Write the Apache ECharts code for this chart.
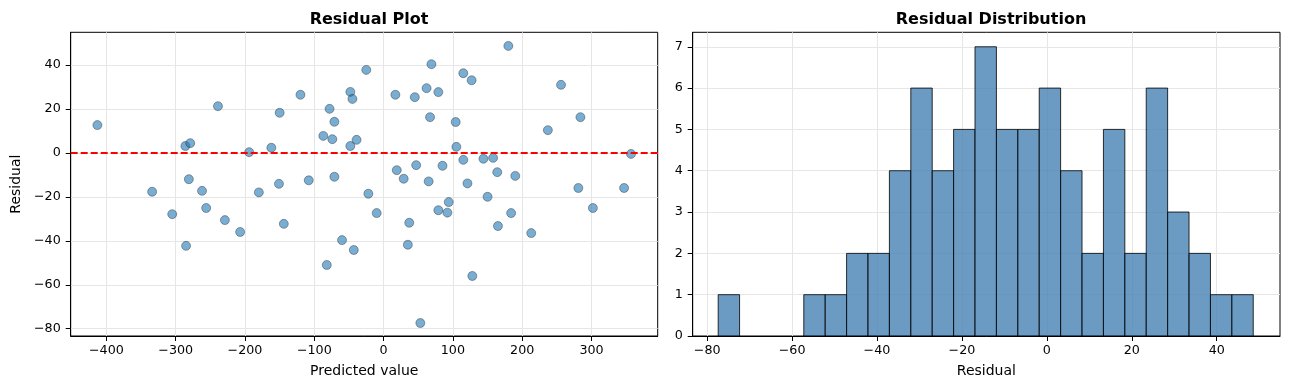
<!DOCTYPE html>
<html>
<head>
<meta charset="utf-8">
<script src="https://cdn.jsdelivr.net/npm/echarts@6.0.0/dist/echarts.min.js"></script>
<style>
html,body{margin:0;padding:0;background:#fff;}
#chart{width:1289px;height:390px;}
</style>
</head>
<body>
<div id="chart"></div>
<script>
// ---- data ----
const predicted = [-413, -334, -305, -286, -285, -281, -279, -262, -256, -239, -229, -207, -194, -180, -162,
  -151, -150, -144, -120, -108, -87, -82, -78, -74, -71, -71, -60, -48, -48, -45, -43, -39, -25, -22, -10,
  17, 19, 29, 35, 37, 45, 47, 53, 62, 65, 67, 69, 79, 79, 85, 92, 94, 104, 105, 115, 115, 121, 127, 128,
  144, 150, 158, 164, 165, 180, 184, 190, 213, 237, 256, 281, 284, 302, 347, 357];
const residuals = [12.6, -17.7, -27.9, 3.1, -42.3, -12.0, 4.4, -17.3, -25.1, 21.2, -30.6, -36.0, 0.3, -18.0, 2.3,
  -14.1, 18.2, -32.3, 26.4, -12.5, 7.7, -51.0, 20.0, 6.2, 14.1, -10.9, -39.7, 27.7, 3.1, 24.5, -44.2, 5.9, 37.7, -18.6, -27.4,
  26.4, -7.9, -11.8, -41.8, -31.8, 25.3, -5.6, -77.4, 29.4, -13.0, 16.2, 40.3, 27.6, -26.1, -5.9, -27.2, -22.4, 14.0, 2.7, 36.2, -3.2, -13.9, 33.0, -56.0,
  -2.7, -20.0, -2.3, -8.8, -33.3, 48.6, -27.4, -10.5, -36.5, 10.3, 30.9, -16.0, 16.2, -25.1, -16.0, -0.5];
const histBins = 25;
const scatterXTicks = [-400, -300, -200, -100, 0, 100, 200, 300];
const scatterYTicks = [-80, -60, -40, -20, 0, 20, 40];
const histXTicks = [-80, -60, -40, -20, 0, 20, 40];
const histYTicks = [0, 1, 2, 3, 4, 5, 6, 7];

// ---- histogram (numpy-style equal-width bins) ----
const rMin = Math.min(...residuals), rMax = Math.max(...residuals);
const bw = (rMax - rMin) / histBins;
const counts = new Array(histBins).fill(0);
residuals.forEach(v => {
  let k = Math.floor((v - rMin) / bw);
  if (k >= histBins) k = histBins - 1;
  counts[k]++;
});
const histData = counts.map((c, i) => [rMin + i * bw, rMin + (i + 1) * bw, c]);
const scatterData = predicted.map((x, i) => [x, residuals[i]]);

const FONT = 'DejaVu Sans';
const fmt = v => String(v).replace('-', '\u2212');
const tickFont = {fontFamily: FONT, fontSize: 12.7, color: '#000'};
const gridLine = {show: true, lineStyle: {color: '#e6e6e6', width: 1}};
const axisLine = {show: true, onZero: false, lineStyle: {color: '#000', width: 1}};
const axisTick = (vals) => ({show: true, length: 5, lineStyle: {color: '#000', width: 1}, customValues: vals});

const chart = echarts.init(document.getElementById('chart'), null, {renderer: 'canvas'});
chart.setOption({
  animation: false,
  backgroundColor: '#fff',
  title: [
    {text: 'Residual Plot', left: 364, top: 7, textAlign: 'center',
     textStyle: {fontFamily: FONT, fontSize: 16, fontWeight: 'bold', color: '#000'}},
    {text: 'Residual Distribution', left: 986, top: 7, textAlign: 'center',
     textStyle: {fontFamily: FONT, fontSize: 16, fontWeight: 'bold', color: '#000'}}
  ],
  grid: [
    {left: 70.7, right: 631.3, top: 32.3, bottom: 54, show: true, borderColor: '#000', borderWidth: 1, backgroundColor: 'transparent'},
    {left: 692.7, right: 9, top: 32.3, bottom: 54, show: true, borderColor: '#000', borderWidth: 1, backgroundColor: 'transparent'}
  ],
  xAxis: [
    {type: 'value', gridIndex: 0, min: -451.5, max: 395.5,
     name: 'Predicted value', nameLocation: 'middle', nameGap: 28,
     nameTextStyle: {fontFamily: FONT, fontSize: 14, color: '#000'},
     axisLine: axisLine, axisTick: axisTick(scatterXTicks),
     axisLabel: {customValues: scatterXTicks, formatter: fmt, margin: 8, ...tickFont},
     splitLine: gridLine},
    {type: 'value', gridIndex: 1, min: -83.4, max: 54.9,
     name: 'Residual', nameLocation: 'middle', nameGap: 28,
     nameTextStyle: {fontFamily: FONT, fontSize: 14, color: '#000'},
     axisLine: axisLine, axisTick: axisTick(histXTicks),
     axisLabel: {customValues: histXTicks, formatter: fmt, margin: 8, ...tickFont},
     splitLine: gridLine}
  ],
  yAxis: [
    {type: 'value', gridIndex: 0, min: -83.3, max: 54.8,
     name: 'Residual', nameLocation: 'middle', nameGap: 47,
     nameTextStyle: {fontFamily: FONT, fontSize: 14, color: '#000'},
     axisLine: axisLine, axisTick: axisTick(scatterYTicks),
     axisLabel: {customValues: scatterYTicks, formatter: fmt, margin: 10, ...tickFont},
     splitLine: gridLine},
    {type: 'value', gridIndex: 1, min: 0, max: 7.35,
     axisLine: axisLine, axisTick: axisTick(histYTicks),
     axisLabel: {customValues: histYTicks, formatter: fmt, margin: 10, ...tickFont},
     splitLine: gridLine}
  ],
  series: [
    {type: 'scatter', xAxisIndex: 0, yAxisIndex: 0, data: scatterData,
     symbol: 'circle', symbolSize: 9,
     itemStyle: {color: 'rgba(31,119,180,0.6)', borderColor: 'rgba(0,0,0,0.55)', borderWidth: 0.6, opacity: 1},
     emphasis: {disabled: true},
     markLine: {silent: true, symbol: 'none', label: {show: false},
       lineStyle: {color: '#ff0000', width: 2, type: [7, 3]},
       data: [{yAxis: 0}]}},
    {type: 'custom', xAxisIndex: 1, yAxisIndex: 1, data: histData,
     encode: {x: [0, 1], y: 2},
     renderItem: function (params, api) {
       const c = api.value(2);
       if (!c) return null;
       const p0 = api.coord([api.value(0), c]);
       const p1 = api.coord([api.value(1), 0]);
       return {type: 'rect',
         shape: {x: p0[0], y: p0[1], width: p1[0] - p0[0], height: p1[1] - p0[1]},
         style: {fill: 'rgba(70,130,180,0.8)', stroke: 'rgba(0,0,0,0.8)', lineWidth: 1}};
     }}
  ]
});
</script>
</body>
</html>
